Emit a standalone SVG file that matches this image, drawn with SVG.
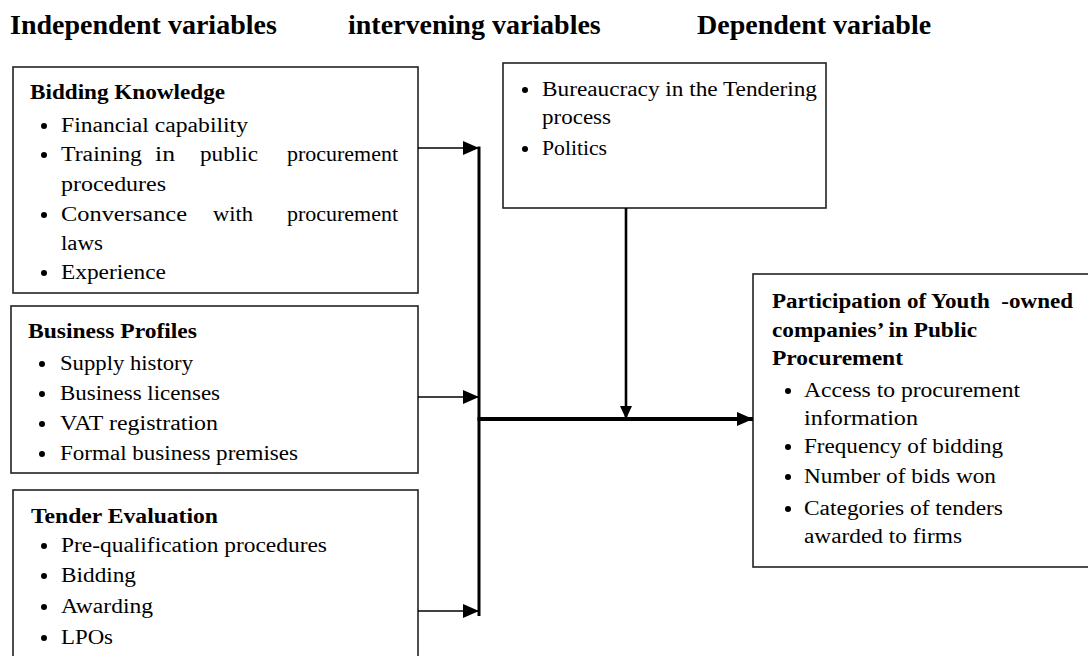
<svg xmlns="http://www.w3.org/2000/svg" width="1088" height="656" viewBox="0 0 1088 656">
<style>
.hdr{font-family:"Liberation Serif","Times New Roman",serif;font-weight:bold;font-size:28px;fill:#000}
.t{font-family:"Liberation Serif","Times New Roman",serif;font-size:20px;fill:#000}
.b{font-family:"Liberation Serif","Times New Roman",serif;font-size:20px;font-weight:bold;fill:#000}
.box{fill:#fff;stroke:#222;stroke-width:1.6}
.dot{fill:#000}
.thin{stroke:#000;stroke-width:1.6;fill:none}
.bus{stroke:#000;stroke-width:3;fill:none}
.main{stroke:#000;stroke-width:4;fill:none}
.mid{stroke:#000;stroke-width:2.6;fill:none}
</style>
<defs>
<marker id="ah" markerUnits="userSpaceOnUse" markerWidth="16" markerHeight="14" refX="16" refY="7" orient="auto">
<path d="M0,0 L16,7 L0,14 z" fill="#000"/>
</marker>
<marker id="ahs" markerUnits="userSpaceOnUse" markerWidth="13" markerHeight="12" refX="13" refY="6" orient="auto">
<path d="M0,0 L13,6 L0,12 z" fill="#000"/>
</marker>
</defs>
<rect width="1088" height="656" fill="#fff"/>

<g id="headers">
<text class="hdr" x="10" y="34">Independent variables</text>
<text class="hdr" x="348" y="34">intervening variables</text>
<text class="hdr" x="697" y="34">Dependent variable</text>
</g>

<g id="bidding-knowledge">
<rect class="box" x="13" y="67" width="405" height="226"/>
<text class="b" x="30" y="99" textLength="195" lengthAdjust="spacingAndGlyphs">Bidding Knowledge</text>
<circle class="dot" cx="44" cy="126" r="3"/>
<text class="t" x="61" y="132" textLength="187" lengthAdjust="spacingAndGlyphs">Financial capability</text>
<circle class="dot" cx="44" cy="155" r="3"/>
<text class="t" x="61" y="161" textLength="81" lengthAdjust="spacingAndGlyphs">Training</text>
<text class="t" x="155" y="161" textLength="20" lengthAdjust="spacingAndGlyphs">in</text>
<text class="t" x="200" y="161" textLength="58" lengthAdjust="spacingAndGlyphs">public</text>
<text class="t" x="287" y="161" textLength="111" lengthAdjust="spacingAndGlyphs">procurement</text>
<text class="t" x="61" y="191" textLength="105" lengthAdjust="spacingAndGlyphs">procedures</text>
<circle class="dot" cx="44" cy="215" r="3"/>
<text class="t" x="61" y="221" textLength="126" lengthAdjust="spacingAndGlyphs">Conversance</text>
<text class="t" x="213" y="221" textLength="40" lengthAdjust="spacingAndGlyphs">with</text>
<text class="t" x="287" y="221" textLength="111" lengthAdjust="spacingAndGlyphs">procurement</text>
<text class="t" x="61" y="250" textLength="42" lengthAdjust="spacingAndGlyphs">laws</text>
<circle class="dot" cx="44" cy="273" r="3"/>
<text class="t" x="61" y="279" textLength="105" lengthAdjust="spacingAndGlyphs">Experience</text>
</g>

<g id="business-profiles">
<rect class="box" x="11" y="306" width="407" height="167"/>
<text class="b" x="28" y="338" textLength="169" lengthAdjust="spacingAndGlyphs">Business Profiles</text>
<circle class="dot" cx="42" cy="364" r="3"/>
<text class="t" x="60" y="370" textLength="133" lengthAdjust="spacingAndGlyphs">Supply history</text>
<circle class="dot" cx="42" cy="394" r="3"/>
<text class="t" x="60" y="400" textLength="160" lengthAdjust="spacingAndGlyphs">Business licenses</text>
<circle class="dot" cx="42" cy="424" r="3"/>
<text class="t" x="60" y="430" textLength="158" lengthAdjust="spacingAndGlyphs">VAT registration</text>
<circle class="dot" cx="42" cy="454" r="3"/>
<text class="t" x="60" y="460" textLength="238" lengthAdjust="spacingAndGlyphs">Formal business premises</text>
</g>

<g id="tender-evaluation">
<rect class="box" x="13" y="490" width="405" height="180"/>
<text class="b" x="31" y="523" textLength="187" lengthAdjust="spacingAndGlyphs">Tender Evaluation</text>
<circle class="dot" cx="44" cy="546" r="3"/>
<text class="t" x="61" y="552" textLength="266" lengthAdjust="spacingAndGlyphs">Pre-qualification procedures</text>
<circle class="dot" cx="44" cy="576" r="3"/>
<text class="t" x="61" y="582" textLength="75" lengthAdjust="spacingAndGlyphs">Bidding</text>
<circle class="dot" cx="44" cy="607" r="3"/>
<text class="t" x="61" y="613" textLength="92" lengthAdjust="spacingAndGlyphs">Awarding</text>
<circle class="dot" cx="44" cy="638" r="3"/>
<text class="t" x="61" y="644" textLength="52" lengthAdjust="spacingAndGlyphs">LPOs</text>
</g>

<g id="intervening">
<rect class="box" x="503" y="63" width="323" height="145"/>
<circle class="dot" cx="525" cy="90" r="3"/>
<text class="t" x="542" y="96" textLength="275" lengthAdjust="spacingAndGlyphs">Bureaucracy in the Tendering</text>
<text class="t" x="542" y="124" textLength="69" lengthAdjust="spacingAndGlyphs">process</text>
<circle class="dot" cx="525" cy="149" r="3"/>
<text class="t" x="542" y="155" textLength="65" lengthAdjust="spacingAndGlyphs">Politics</text>
</g>

<g id="dependent">
<rect class="box" x="753" y="274" width="345" height="293"/>
<text class="b" x="772" y="308" style="white-space:pre" textLength="301" lengthAdjust="spacingAndGlyphs">Participation of Youth  -owned</text>
<text class="b" x="772" y="337" textLength="205" lengthAdjust="spacingAndGlyphs">companies’ in Public</text>
<text class="b" x="772" y="365" textLength="131" lengthAdjust="spacingAndGlyphs">Procurement</text>
<circle class="dot" cx="788" cy="391" r="3"/>
<text class="t" x="804" y="397" textLength="216" lengthAdjust="spacingAndGlyphs">Access to procurement</text>
<text class="t" x="804" y="425" textLength="114" lengthAdjust="spacingAndGlyphs">information</text>
<circle class="dot" cx="788" cy="447" r="3"/>
<text class="t" x="804" y="453" textLength="199" lengthAdjust="spacingAndGlyphs">Frequency of bidding</text>
<circle class="dot" cx="788" cy="477" r="3"/>
<text class="t" x="804" y="483" textLength="192" lengthAdjust="spacingAndGlyphs">Number of bids won</text>
<circle class="dot" cx="788" cy="509" r="3"/>
<text class="t" x="804" y="515" textLength="199" lengthAdjust="spacingAndGlyphs">Categories of tenders</text>
<text class="t" x="804" y="543" textLength="158" lengthAdjust="spacingAndGlyphs">awarded to firms</text>
</g>

<g id="connectors">
<line class="thin" x1="418" y1="148" x2="479" y2="148" marker-end="url(#ah)"/>
<line class="thin" x1="418" y1="397" x2="479" y2="397" marker-end="url(#ah)"/>
<line class="thin" x1="418" y1="611" x2="479" y2="611" marker-end="url(#ah)"/>
<line class="bus" x1="479" y1="146.5" x2="479" y2="616"/>
<line class="main" x1="477.5" y1="419" x2="753" y2="419" marker-end="url(#ah)"/>
<line class="mid" x1="626" y1="208" x2="626" y2="419" marker-end="url(#ahs)"/>
</g>
</svg>
